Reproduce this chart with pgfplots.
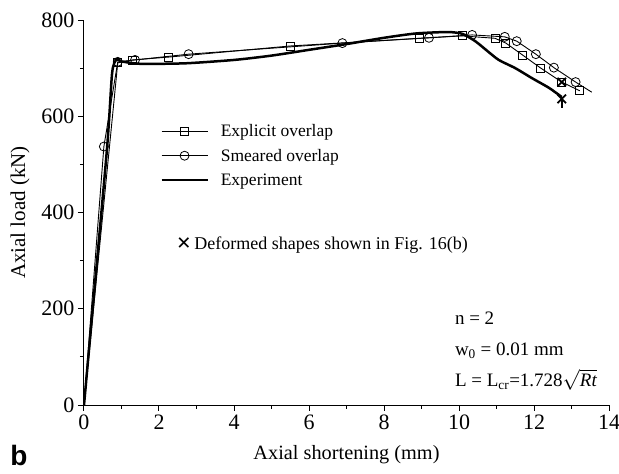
\documentclass[border=0pt]{standalone}
\usepackage{fontspec}
\setmainfont{Liberation Serif}
\newfontfamily\symfont{DejaVu Sans}
\newfontfamily\labelfont{Liberation Sans}
\usepackage{pgfplots}
\pgfplotsset{compat=1.18}
\begin{document}
\begin{tikzpicture}
\begin{axis}[
    scale only axis, width=525bp, height=385bp,
    xmin=0, xmax=14, ymin=0, ymax=800,
    axis x line=bottom, axis y line=left,
    axis line style={-, line width=1bp},
    xtick={0,2,...,14}, ytick={0,200,...,800},
    minor x tick num=1, minor y tick num=1,
    tick align=outside, major tick length=6bp, minor tick length=4bp,
    tick style={line width=1bp, black},
    ticklabel style={font=\fontsize{22bp}{26bp}\selectfont},
    /pgf/number format/assume math mode=true,
    xlabel={Axial shortening (mm)},
    ylabel={Axial load (kN)},
    xlabel style={font=\fontsize{20.3bp}{24bp}\selectfont,
        at={(axis description cs:0.5,0)}, anchor=center, yshift=-50bp},
    ylabel style={font=\fontsize{21bp}{24bp}\selectfont,
        at={(axis description cs:-0.122,0.5)}, anchor=center},
    legend style={draw=none, fill=none, at={(axis cs:1.95,592)}, anchor=north west,
        font=\fontsize{17.5bp}{21bp}\selectfont, row sep=7bp, column sep=10bp},
    legend cell align=left,
    legend image code/.code={\draw[mark repeat=2,mark phase=2] plot coordinates {(0bp,0bp) (23bp,0bp) (46bp,0bp)};},
]

% Explicit overlap
\addplot[black, line width=0.9bp, mark=square, mark size=4bp, mark phase=2,
    mark options={fill=white, solid, line width=0.8bp}]
    coordinates {
    (0,0)(0.9,711)(1.30,717)(2.26,723)(5.5,746)(8.95,762)(10.08,767)
    (10.96,762)(11.25,752)(11.70,727)(12.18,700)(12.74,671)(13.22,653)
    };

% Smeared overlap
\addplot[black, line width=0.9bp, mark=o, mark size=4.5bp, mark phase=2,
    mark options={fill=white, solid, line width=0.8bp}]
    coordinates {
    (0,0)(0.53,537)(0.9,713)(1.36,717)(2.79,729)(6.89,752)(9.2,763)
    (10.35,769)(11.22,765)(11.54,756)(12.05,729)(12.53,701)(13.11,671)
    };
\addplot[black, line width=0.9bp, forget plot]
    coordinates {(13.11,671)(13.54,650)};

% Experiment
\addplot[black, line width=2.5bp, smooth, tension=0.4]
    coordinates {
    (0,0)(0.6,520)(0.75,690)(0.87,718)(1.0,714)(1.5,709)(2.7,710)(4.0,717)
    (5.0,726)(6.0,738)(7.0,750)(8.0,763)(8.85,772)(9.7,775)(10.1,771)
    (10.45,755)(10.75,736)(11.06,717)(11.5,700)(11.95,679)(12.4,659)(12.74,640)
    };

% deformed shape markers
\addplot[only marks, black, mark=x, mark size=6bp, line width=1.8bp, forget plot]
    coordinates {(12.74,671)(12.74,636)};
\addplot[black, line width=2.5bp, forget plot]
    coordinates {(12.74,640)(12.74,617)};

\legend{Explicit overlap, Smeared overlap, Experiment}

\node[anchor=west, font=\fontsize{18bp}{21bp}\selectfont] at (axis cs:2.37,332)
    {{\symfont ✕}\,Deformed shapes shown in Fig. 16(b)};
\node[anchor=north west, align=left, font=\fontsize{19bp}{31bp}\selectfont]
    at (axis cs:9.8,200)
    {n = 2\\w\textsubscript{0} = 0.01 mm\\L = L\textsubscript{cr}=1.728$\sqrt{\mbox{\itshape Rt}}$};
\end{axis}
\node[font=\fontsize{28bp}{28bp}\selectfont\labelfont\bfseries] at (-65bp,-50bp) {b};
\pgfresetboundingbox
\useasboundingbox (-84bp,-69bp) rectangle (535bp,405bp);
\end{tikzpicture}
\end{document}
